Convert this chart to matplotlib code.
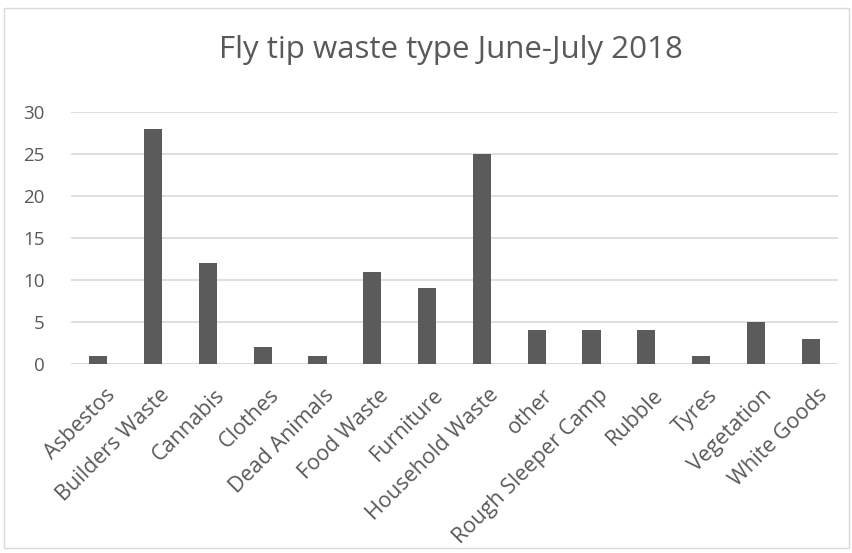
import numpy as np
import matplotlib.pyplot as plt
from matplotlib.patches import Rectangle
from matplotlib.transforms import ScaledTranslation

categories = ["Asbestos", "Builders Waste", "Cannabis", "Clothes", "Dead Animals",
              "Food Waste", "Furniture", "Household Waste", "other",
              "Rough Sleeper Camp", "Rubble", "Tyres", "Vegetation", "White Goods"]
counts = [1, 28, 12, 2, 1, 11, 9, 25, 4, 4, 4, 1, 5, 3]
yticks = [0, 5, 10, 15, 20, 25, 30]

W, H = 853, 553
fig = plt.figure(figsize=(W / 100, H / 100), dpi=100)
plt.rcParams['font.family'] = ['Open Sans', 'DejaVu Sans']

# chart border
fig.patches.append(Rectangle((4 / W, 1 - 548 / H), 845 / W, 540 / H,
                             transform=fig.transFigure, fill=False,
                             edgecolor="#d9d9d9", linewidth=1.0))

ax = fig.add_axes([71 / W, 1 - 364 / H, (838 - 71) / W, (364 - 112) / H])
x = np.arange(len(categories))
ax.bar(x, counts, width=0.33, color="#5b5b5b", zorder=3)

ax.set_xlim(-0.5, len(categories) - 0.5)
ax.set_ylim(0, 30)
ax.set_yticks(yticks)
ax.yaxis.grid(True, color="#d9d9d9", linewidth=1.2, zorder=0)
for s in ax.spines.values():
    s.set_visible(False)
ax.axhline(0, color="#d9d9d9", linewidth=1.2, zorder=2)
ax.tick_params(axis="both", length=0, colors="#595959")
ax.tick_params(axis="y", pad=19, labelsize=13.5)
ax.set_xticks(x)
ax.set_xticklabels(categories, rotation=45, ha="right", rotation_mode="anchor")
ax.tick_params(axis="x", pad=15, labelsize=15.5)
shift = ScaledTranslation(6 / 100, 0, fig.dpi_scale_trans)
for lbl in ax.get_xticklabels():
    lbl.set_transform(lbl.get_transform() + shift)

fig.text(451 / W, 1 - 50 / H, "Fly tip waste type June-July 2018", ha="center", va="center",
         fontsize=22.5, color="#595959")

fig.savefig("out.png", dpi=100)
